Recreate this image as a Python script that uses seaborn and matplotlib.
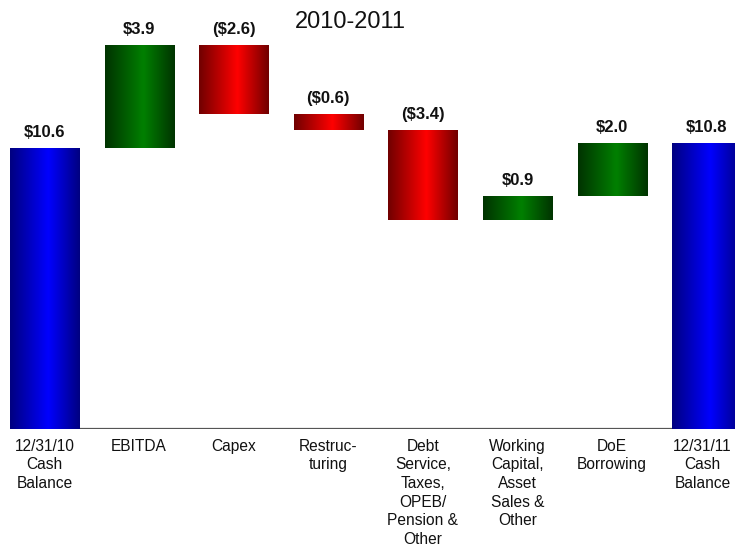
import numpy as np
import pandas as pd
import matplotlib
matplotlib.use("Agg")
import matplotlib.pyplot as plt
import matplotlib.transforms as mtransforms
import seaborn as sns
from matplotlib.colors import LinearSegmentedColormap

# Cash bridge, $ billions
categories = ["12/31/10\nCash\nBalance", "EBITDA", "Capex", "Restruc-\nturing",
              "Debt\nService,\nTaxes,\nOPEB/\nPension &\nOther",
              "Working\nCapital,\nAsset\nSales &\nOther",
              "DoE\nBorrowing", "12/31/11\nCash\nBalance"]
values = [10.6, 3.9, -2.6, -0.6, -3.4, 0.9, 2.0, 10.8]
kinds = ["total", "delta", "delta", "delta", "delta", "delta", "delta", "total"]

# Floating bar geometry from the running balance
bottoms, heights = [], []
running = 0.0
for v, k in zip(values, kinds):
    if k == "total":
        bottoms.append(0.0)
        heights.append(v)
        running = v
    else:
        lo = running if v >= 0 else running + v
        bottoms.append(lo)
        heights.append(abs(v))
        running += v

df = pd.DataFrame({"category": categories, "height": heights})

sns.set_theme(style="white")
plt.rcParams["font.family"] = ["Liberation Sans", "DejaVu Sans"]

fig = plt.figure(figsize=(7.35, 5.5), dpi=100)
ax = fig.add_axes([0, 121 / 550, 1, 429 / 550])

sns.barplot(data=df, x="category", y="height", order=categories,
            width=0.73, color="white", linewidth=0, ax=ax)

# baseline
ax.hlines(0, -0.365, 7.365, color="#555555", linewidth=1.6, zorder=1)


def edge_cmap(dark, bright):
    return LinearSegmentedColormap.from_list(
        "g", [(0.0, dark), (0.55, bright), (1.0, dark)])


blue = edge_cmap("#000080", "#0000FF")
green = edge_cmap("#003300", "#008000")
red = edge_cmap("#700000", "#FF0000")

grad = np.linspace(0, 1, 256).reshape(1, -1)
for patch, b, v, k in zip(ax.patches, bottoms, values, kinds):
    patch.set_y(b)
    patch.set_facecolor("none")
    x0, w, h = patch.get_x(), patch.get_width(), patch.get_height()
    cmap = blue if k == "total" else (green if v >= 0 else red)
    im = ax.imshow(grad, cmap=cmap, aspect="auto", interpolation="bicubic",
                   extent=(x0, x0 + w, b, b + h), zorder=2)
    im.set_clip_path(patch)
    label = f"${v:.1f}" if v >= 0 else f"(${abs(v):.1f})"
    ax.annotate(label, (x0 + w / 2, b + h), xytext=(0, 8),
                textcoords="offset pixels",
                ha="center", va="bottom", fontsize=12, fontweight="bold",
                color="#111111")

ax.set_xlim(-0.47, 7.30)
ax.set_ylim(0, 16.19)

ax.set_xlabel("")
ax.set_ylabel("")
ax.set_yticks([])
ax.set_xticks(range(len(categories)))
ax.set_xticklabels(categories, fontsize=11.2, linespacing=1.3,
                   ha="center", multialignment="center", color="#111111")
ax.tick_params(axis="x", length=0, pad=7)
# keep the last label inside the right edge
last = ax.get_xticklabels()[-1]
last.set_transform(last.get_transform()
                   + mtransforms.ScaledTranslation(-4 / 100, 0, fig.dpi_scale_trans))
for s in ax.spines.values():
    s.set_visible(False)

fig.text(350 / 735, 1 - 22 / 550, "2010-2011", ha="center", va="center",
         fontsize=17, color="#111111")

fig.savefig("out.png", dpi=100, facecolor="white")
